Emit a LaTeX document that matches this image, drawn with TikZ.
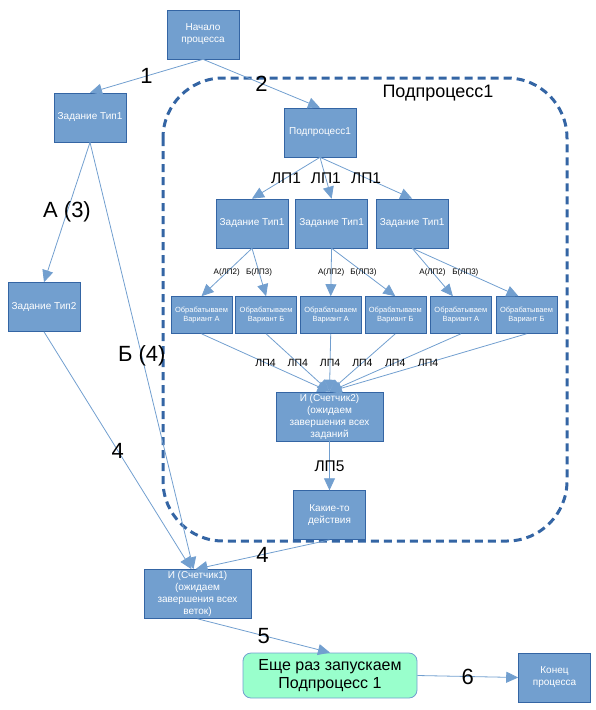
\documentclass[tikz,border=0pt]{standalone}
\usepackage{fontspec}
\setmainfont{Liberation Sans}
\usepackage{tikz}
\usetikzlibrary{arrows.meta}
\usetikzlibrary{positioning}
\definecolor{boxfill}{HTML}{729FCF}
\definecolor{boxline}{HTML}{3465A4}
\definecolor{restartfill}{HTML}{99FFCC}
\tikzstyle{Flow_style}=[
	>={Triangle[length=12pt,width=11pt]}, thick,
	every edge/.style={draw=boxfill,line width=0.8pt},
	block/.style={rectangle,fill=boxfill,draw=boxline,line width=0.6pt,text=white,align=center,inner sep=1pt,minimum width=72pt,minimum height=49pt,font=\fontsize{10}{12}\selectfont},
	variant/.style={block,minimum width=61pt,minimum height=37pt,font=\fontsize{7.5}{9.5}\selectfont},
	restart/.style={rectangle,rounded corners=8pt,fill=restartfill,draw=boxfill,line width=0.8pt,align=center,minimum width=174pt,minimum height=45pt,font=\fontsize{16}{18.5}\selectfont},
	frame_line/.style={draw=boxline,line width=3pt,dash pattern=on 8pt off 5pt,rounded corners=60pt},
	frame_title/.style={font=\fontsize{18}{20}\selectfont},
	num/.style={font=\fontsize{22}{24}\selectfont,inner sep=0pt},
	lp_big/.style={font=\fontsize{15.5}{17}\selectfont,inner sep=0pt},
	lp_mid/.style={font=\fontsize{10.5}{12}\selectfont,inner sep=0pt},
	lp_small/.style={font=\fontsize{8}{9}\selectfont,inner sep=0pt}
]

\begin{document}
\begin{tikzpicture}[Flow_style, x=1pt, y=-1pt]
	\useasboundingbox (0,0) rectangle (596,710);
	
	%subprocess frame
	\draw[frame_line] (163,78) rectangle (567,541);
	\node[frame_title] (fr_title) at (438,93) {Подпроцесс1};
	
	%main branch
	\node[block] (start) at (203,34.5) {Начало\\процесса};
	\node[block] (zt1) at (90,117.5) {Задание Тип1};
	\node[block] (zt2) at (44,307) {Задание Тип2};
	\node[block] (sub) at (320,132.5) {Подпроцесс1};
	
	%tasks
	\node[block] (zta) at (252,223.5) {Задание Тип1};
	\node[block] (ztb) [right=7pt of zta] {Задание Тип1};
	\node[block] (ztc) [right=8pt of ztb] {Задание Тип1};
	
	%variants
	\node[variant] (va1) at (201.5,315) {Обрабатываем\\Вариант А};
	\node[variant] (vb1) [right=3pt of va1] {Обрабатываем\\Вариант Б};
	\node[variant] (va2) [right=3pt of vb1] {Обрабатываем\\Вариант А};
	\node[variant] (vb2) [right=3pt of va2] {Обрабатываем\\Вариант Б};
	\node[variant] (va3) [right=4pt of vb2] {Обрабатываем\\Вариант А};
	\node[variant] (vb3) [right=4pt of va3] {Обрабатываем\\Вариант Б};
	
	%counters
	\node[block,minimum width=107pt] (sc2) at (329.5,416.5) {И (Счетчик2)\\(ожидаем\\завершения всех\\заданий};
	\node[block] (act) [below=49pt of sc2] {Какие-то\\действия};
	\node[block,minimum width=107pt] (sc1) at (197.5,594) {И (Счетчик1)\\(ожидаем\\завершения всех\\веток)};
	
	%end
	\node[restart] (again) at (330,675.5) {Еще раз запускаем\\Подпроцесс 1};
	\node[block] (finish) at (554.5,677.5) {Конец\\процесса};
	
	\path[->] (start.south) edge node[num]{1} (zt1.north)
	(start.south) edge node[num]{2} (sub.north)
	(zt1.south) edge node[num]{А (3)} (zt2.north)
	(zt1.south) edge node[num]{Б (4)} ([xshift=-4pt]sc1.north)
	(zt2.south) edge node[num]{4} ([xshift=-6pt]sc1.north)
	(act.south) edge node[num]{4} ([xshift=-2pt]sc1.north)
	(sc1.south) edge node[num]{5} (again.north)
	(again.east) edge node[num]{6} (finish.west)
	
	(sub.south) edge node[lp_big]{ЛП1} (zta.north)
	(sub.south) edge node[lp_big]{ЛП1} (ztb.north)
	(sub.south) edge node[lp_big]{ЛП1} (ztc.north)
	
	(zta.south) edge node[lp_small]{А(ЛП2)} (va1.north)
	(zta.south) edge node[lp_small]{Б(ЛП3)} (vb1.north)
	(ztb.south) edge node[lp_small]{А(ЛП2)} (va2.north)
	(ztb.south) edge node[lp_small]{Б(ЛП3)} (vb2.north)
	(ztc.south) edge node[lp_small]{А(ЛП2)} ([xshift=-8pt]va3.north)
	(ztc.south) edge node[lp_small]{Б(ЛП3)} ([xshift=-8pt]vb3.north)
	
	(va1.south) edge node[lp_mid]{ЛП4} (sc2.north)
	(vb1.south) edge node[lp_mid]{ЛП4} (sc2.north)
	(va2.south) edge node[lp_mid]{ЛП4} (sc2.north)
	(vb2.south) edge node[lp_mid]{ЛП4} (sc2.north)
	(va3.south) edge node[lp_mid]{ЛП4} (sc2.north)
	(vb3.south) edge node[lp_mid]{ЛП4} (sc2.north)
	
	(sc2.south) edge node[lp_big]{ЛП5} (act.north);
	
\end{tikzpicture}
\end{document}
